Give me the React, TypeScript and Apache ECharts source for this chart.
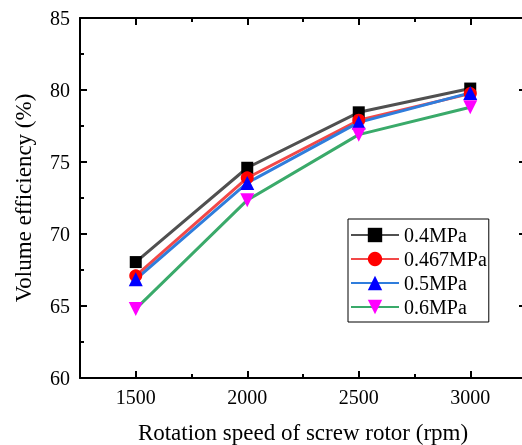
import React, { useEffect, useRef } from "react";
import * as echarts from "echarts";

const categories = ["1500", "2000", "2500", "3000"];
const s04 = [68.05, 74.6, 78.45, 80.1];
const s0467 = [67.1, 73.9, 77.9, 79.75];
const s05 = [66.85, 73.55, 77.75, 79.8];
const s06 = [64.8, 72.35, 76.9, 78.8];
const seriesNames = ["0.4MPa", "0.467MPa", "0.5MPa", "0.6MPa"];
const yTicks = { min: 60, max: 85, interval: 5 };

const FONT = "'Liberation Serif', 'Times New Roman', serif";

export default function App() {
  const ref = useRef<HTMLDivElement>(null);
  useEffect(() => {
    if (!ref.current) return;
    const chart = echarts.init(ref.current, undefined, { renderer: "svg" });
    const axisLine = { show: true, onZero: false, lineStyle: { color: "#000", width: 2 } };
    const majorX = (pos: string, labels: boolean, name?: string) => ({
      type: "category",
      position: pos,
      data: categories,
      boundaryGap: true,
      axisLine,
      axisTick: { show: true, alignWithLabel: true, inside: true, length: 7, lineStyle: { color: "#000", width: 2 } },
      axisLabel: { show: labels, color: "#000", fontSize: 20, fontFamily: FONT, margin: 9 },
      splitLine: { show: false },
      name: name || "",
      nameLocation: "middle",
      nameGap: 43,
      nameTextStyle: { color: "#000", fontSize: 23, fontFamily: FONT },
    });
    const minorX = (pos: string) => ({
      type: "category",
      position: pos,
      data: categories,
      boundaryGap: true,
      axisLine: { show: false },
      axisTick: { show: true, alignWithLabel: false, inside: true, length: 4, lineStyle: { color: "#000", width: 2 } },
      axisLabel: { show: false },
      splitLine: { show: false },
    });
    const yAx = (pos: string, labels: boolean, name?: string) => ({
      type: "value",
      position: pos,
      min: yTicks.min,
      max: yTicks.max,
      interval: yTicks.interval,
      axisLine: labels ? axisLine : { show: false, onZero: false },
      axisTick: { show: true, inside: true, length: 7, lineStyle: { color: "#000", width: 2 } },
      minorTick: { show: true, splitNumber: 2, length: 4, lineStyle: { color: "#000", width: 2 } },
      axisLabel: { show: labels, color: "#000", fontSize: 20, fontFamily: FONT, margin: 10 },
      splitLine: { show: false },
      minorSplitLine: { show: false },
      name: name || "",
      nameLocation: "middle",
      nameGap: 45,
      nameTextStyle: { color: "#000", fontSize: 23, fontFamily: FONT },
    });
    const mk = (name: string, data: number[], lineColor: string, symColor: string, symbol: string, size: number, rotate = 0) => ({
      name,
      type: "line",
      xAxisIndex: 0,
      yAxisIndex: 0,
      data,
      symbol,
      symbolSize: size,
      symbolRotate: rotate,
      lineStyle: { color: lineColor, width: 3 },
      itemStyle: { color: symColor },
      emphasis: { disabled: true },
    });
    chart.setOption({
      animation: false,
      grid: { left: 80, top: 18, right: -4, bottom: 67, outerBoundsMode: "none", containLabel: false },
      xAxis: [majorX("bottom", true, "Rotation speed of screw rotor (rpm)"), minorX("bottom"), majorX("top", false), minorX("top")],
      yAxis: [yAx("left", true, "Volume efficiency (%)"), yAx("right", false)],
      legend: {
        orient: "vertical",
        left: 348,
        top: 219,
        padding: [6, 2, 5, 2],
        itemGap: 4,
        itemWidth: 48,
        itemHeight: 18,
        borderColor: "#000",
        borderWidth: 1,
        textStyle: { color: "#000", fontSize: 20, fontFamily: FONT, lineHeight: 20 },
        data: seriesNames,
      },
      series: [
        mk(seriesNames[0], s04, "#505050", "#000000", "rect", 12),
        mk(seriesNames[1], s0467, "#f24848", "#ff0000", "circle", 13),
        mk(seriesNames[2], s05, "#2f7ddc", "#0000ff", "triangle", 14),
        mk(seriesNames[3], s06, "#3aaa6a", "#ff00ff", "triangle", 14, 180),
      ],
    });
    return () => chart.dispose();
  }, []);
  return <div ref={ref} style={{ position: "fixed", left: 0, top: 0, width: 522, height: 445 }} />;
}
